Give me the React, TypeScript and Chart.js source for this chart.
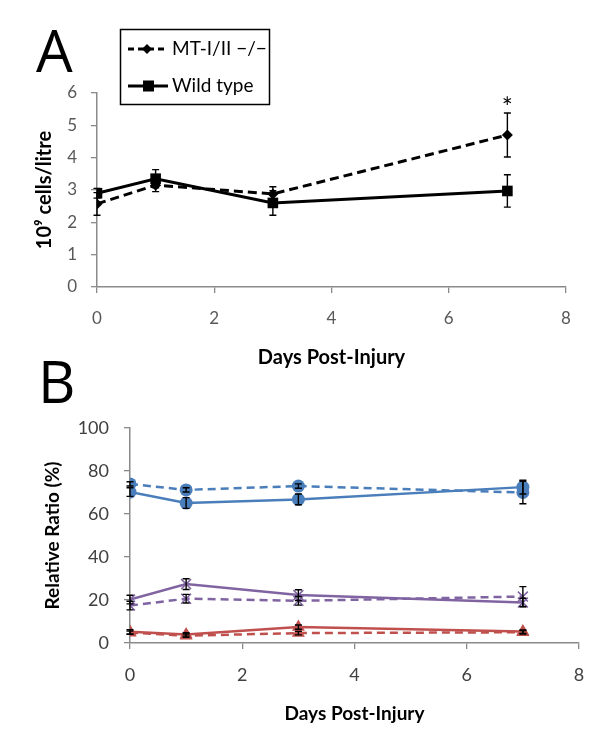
import React, { useEffect, useRef } from "react";
import { Chart, registerables } from "chart.js";
Chart.register(...registerables);

// ---------- Data ----------
const days = [0, 1, 3, 7];

// Panel A (10^9 cells/litre)
const mtValues = [2.57, 3.15, 2.88, 4.7];
const mtErrors = [0.35, 0.2, 0.22, 0.68];
const wtValues = [2.9, 3.35, 2.6, 2.97];
const wtErrors = [0.15, 0.28, 0.38, 0.5];
const aLegendLabels = ["MT-I/II \u2212/\u2212", "Wild type"];

// Panel B (Relative ratio %)
const blueWt = [70.2, 65.1, 66.8, 72.5];
const blueWtErr = [2, 2.5, 2.5, 3.2];
const blueMt = [74, 71.2, 73, 70];
const blueMtErr = [1, 1, 1, 5.2];
const purpleWt = [20.2, 27.4, 22.3, 18.8];
const purpleWtErr = [2, 2.5, 2.5, 2];
const purpleMt = [17.4, 20.6, 19.6, 21.6];
const purpleMtErr = [2, 2, 2, 4.6];
const redWt = [5.2, 4, 7.4, 5.3];
const redWtErr = [1, 0.8, 1, 0.8];
const redMt = [4.8, 3.4, 4.6, 5];
const redMtErr = [0.8, 0.8, 0.8, 0.8];

const FONT = "Lato, 'Liberation Sans', sans-serif";

const toPts = (vals: number[]) => days.map((d, i) => ({ x: d, y: vals[i] }));

const errorBarPlugin = {
  id: "errorBars",
  afterDatasetsDraw(chart: any) {
    const ctx = chart.ctx;
    const xs = chart.scales.x;
    const ys = chart.scales.y;
    chart.data.datasets.forEach((ds: any) => {
      const errs: number[] | undefined = ds.errors;
      if (!errs) return;
      ctx.save();
      ctx.strokeStyle = "#000";
      ctx.lineWidth = 1.4;
      ds.data.forEach((p: any, j: number) => {
        const x = xs.getPixelForValue(p.x);
        const y1 = ys.getPixelForValue(p.y + errs[j]);
        const y2 = ys.getPixelForValue(p.y - errs[j]);
        ctx.beginPath();
        ctx.moveTo(x, y1);
        ctx.lineTo(x, y2);
        ctx.moveTo(x - 3.5, y1);
        ctx.lineTo(x + 3.5, y1);
        ctx.moveTo(x - 3.5, y2);
        ctx.lineTo(x + 3.5, y2);
        ctx.stroke();
      });
      ctx.restore();
    });
  },
};

const panelAExtras = {
  id: "panelAExtras",
  afterDraw(chart: any) {
    const ctx = chart.ctx;
    ctx.save();
    // Panel letter
    ctx.fillStyle = "#000";
    ctx.font = `58px 'Open Sans', 'Liberation Sans', sans-serif`;
    ctx.textBaseline = "alphabetic";
    ctx.textAlign = "left";
    ctx.fillText("A", 36, 72);
    // Asterisk
    const xs = chart.scales.x;
    const ys = chart.scales.y;
    ctx.font = `26px ${FONT}`;
    ctx.textAlign = "center";
    ctx.fillText("*", xs.getPixelForValue(days[3]), ys.getPixelForValue(mtValues[3] + mtErrors[3]) + 4);
    // Legend box
    ctx.strokeStyle = "#000";
    ctx.lineWidth = 1.5;
    ctx.strokeRect(120.5, 29.5, 149, 75);
    // row 1 dashed + diamond
    ctx.lineWidth = 3;
    ctx.setLineDash([6, 4]);
    ctx.beginPath();
    ctx.moveTo(128, 49);
    ctx.lineTo(165, 49);
    ctx.stroke();
    ctx.setLineDash([]);
    ctx.beginPath();
    ctx.moveTo(147, 44);
    ctx.lineTo(152, 49);
    ctx.lineTo(147, 54);
    ctx.lineTo(142, 49);
    ctx.closePath();
    ctx.fill();
    // row 2 solid + square
    ctx.beginPath();
    ctx.moveTo(128, 86);
    ctx.lineTo(168, 86);
    ctx.stroke();
    ctx.fillRect(143, 80.5, 11, 11);
    // Texts
    ctx.font = `19px ${FONT}`;
    ctx.textAlign = "left";
    ctx.textBaseline = "middle";
    ctx.fillStyle = "#000";
    ctx.fillText(aLegendLabels[0], 172, 49);
    ctx.fillText(aLegendLabels[1], 172, 86);
    ctx.restore();
  },
};

const panelBExtras = {
  id: "panelBExtras",
  afterDraw(chart: any) {
    const ctx = chart.ctx;
    ctx.save();
    ctx.fillStyle = "#000";
    ctx.font = `58px 'Open Sans', 'Liberation Sans', sans-serif`;
    ctx.textBaseline = "alphabetic";
    ctx.textAlign = "left";
    ctx.fillText("B", 38, 53);
    ctx.restore();
  },
};

function axisCommon() {
  return {
    grid: {
      display: true,
      drawOnChartArea: false,
      drawTicks: true,
      tickLength: 6,
      color: "#8a8a8a",
      lineWidth: 1.3,
    },
    border: { color: "#8a8a8a", width: 1.5 },
  };
}

export default function App() {
  const refA = useRef<HTMLCanvasElement>(null);
  const refB = useRef<HTMLCanvasElement>(null);

  useEffect(() => {
    const black = "#000";
    const chartA = new Chart(refA.current!, {
      type: "line",
      data: {
        datasets: [
          {
            label: aLegendLabels[1],
            data: toPts(wtValues),
            errors: wtErrors,
            borderColor: black,
            backgroundColor: black,
            borderWidth: 3,
            pointStyle: "rect",
            pointRadius: 7.5,
            pointBorderWidth: 0,
          } as any,
          {
            label: aLegendLabels[0],
            data: toPts(mtValues),
            errors: mtErrors,
            borderColor: black,
            backgroundColor: black,
            borderWidth: 3,
            borderDash: [9, 5],
            pointStyle: "rectRot",
            pointRadius: 5.5,
            pointBorderWidth: 0,
          } as any,
        ],
      },
      options: {
        animation: false,
        responsive: false,
        layout: { padding: { left: 33, top: 93, right: 34, bottom: 0 } },
        plugins: { legend: { display: false }, tooltip: { enabled: false } },
        scales: {
          x: {
            type: "linear",
            min: 0,
            max: 8,
            ...axisCommon(),
            ticks: { stepSize: 2, color: "#595959", font: { family: FONT, size: 17 }, padding: 15 },
            title: {
              display: true,
              text: "Days Post-Injury",
              color: "#000",
              font: { family: FONT, size: 20, weight: "bold" },
              padding: 0,
            },
            afterFit: (s: any) => {
              s.height = 83;
            },
          },
          y: {
            min: 0,
            max: 6,
            ...axisCommon(),
            ticks: { stepSize: 1, color: "#595959", font: { family: FONT, size: 17 }, padding: 14 },
            title: {
              display: true,
              text: "10\u2079 cells/litre",
              color: "#000",
              font: { family: FONT, size: 20, weight: "bold" },
              padding: 0,
            },
            afterFit: (s: any) => {
              s.width = 64;
            },
          },
        },
      } as any,
      plugins: [errorBarPlugin, panelAExtras],
    });

    const blue = "#4a7ebb";
    const purple = "#8064a2";
    const red = "#c0504d";
    const mk = (label: string, vals: number[], errs: number[], color: string, style: string, dashed: boolean, r: number) =>
      ({
        label,
        data: toPts(vals),
        errors: errs,
        borderColor: color,
        backgroundColor: color,
        borderWidth: 2.5,
        borderDash: dashed ? [8, 5] : [],
        pointStyle: style,
        pointRadius: r,
        pointBorderWidth: style === "crossRot" ? 1.5 : 0,
        pointBorderColor: color,
      } as any);

    const chartB = new Chart(refB.current!, {
      type: "line",
      data: {
        datasets: [
          mk("Blue – wild type", blueWt, blueWtErr, blue, "circle", false, 6.5),
          mk("Blue – MT-I/II −/−", blueMt, blueMtErr, blue, "circle", true, 6.5),
          mk("Purple – wild type", purpleWt, purpleWtErr, purple, "crossRot", false, 7),
          mk("Purple – MT-I/II −/−", purpleMt, purpleMtErr, purple, "crossRot", true, 7),
          mk("Red – wild type", redWt, redWtErr, red, "triangle", false, 7.5),
          mk("Red – MT-I/II −/−", redMt, redMtErr, red, "triangle", true, 7.5),
        ],
      },
      options: {
        animation: false,
        responsive: false,
        layout: { padding: { left: 41.6, top: 78, right: 21, bottom: 21.6 } },
        plugins: { legend: { display: false }, tooltip: { enabled: false } },
        scales: {
          x: {
            type: "linear",
            min: 0,
            max: 8,
            ...axisCommon(),
            ticks: { stepSize: 2, color: "#404040", font: { family: FONT, size: 18 }, padding: 15 },
            title: {
              display: true,
              text: "Days Post-Injury",
              color: "#000",
              font: { family: FONT, size: 19, weight: "bold" },
              padding: 0,
            },
            afterFit: (s: any) => {
              s.height = 82.4;
            },
          },
          y: {
            min: 0,
            max: 100,
            ...axisCommon(),
            ticks: { stepSize: 20, color: "#404040", font: { family: FONT, size: 18 }, padding: 15 },
            title: {
              display: true,
              text: "Relative Ratio (%)",
              color: "#000",
              font: { family: FONT, size: 19, weight: "bold" },
              padding: 0,
            },
            afterFit: (s: any) => {
              s.width = 88.4;
            },
          },
        },
      } as any,
      plugins: [errorBarPlugin, panelBExtras],
    });

    return () => {
      chartA.destroy();
      chartB.destroy();
    };
  }, []);

  return (
    <div style={{ position: "fixed", left: 0, top: 0, width: 600, height: 747, background: "#fff" }}>
      <canvas ref={refA} width={600} height={370} style={{ position: "absolute", left: 0, top: 0, display: "block" }} />
      <canvas ref={refB} width={600} height={397} style={{ position: "absolute", left: 0, top: 350, display: "block" }} />
    </div>
  );
}
